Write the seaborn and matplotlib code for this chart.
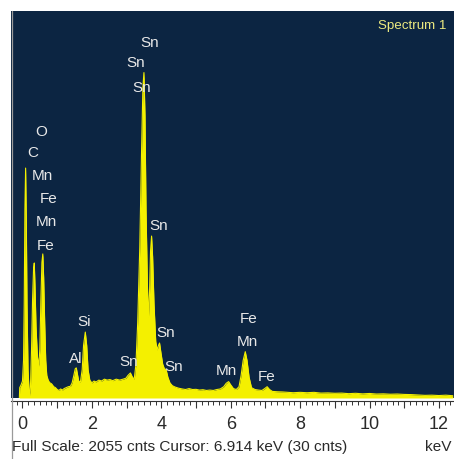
import matplotlib
matplotlib.use("Agg")
import matplotlib.pyplot as plt
from matplotlib.lines import Line2D
from matplotlib.ticker import AutoMinorLocator
import pandas as pd
import seaborn as sns

# EDS spectrum: energy (keV) and counts
energy_kev = [
    -0.09, -0.08, -0.04, 0.00, 0.03, 0.05, 0.07, 0.09, 0.11, 0.13, 0.16, 0.19,
    0.21, 0.23, 0.26, 0.29, 0.32, 0.34, 0.36, 0.39, 0.43, 0.47, 0.50, 0.53,
    0.56, 0.585, 0.61, 0.64, 0.67, 0.70, 0.74, 0.78, 0.84, 0.90, 0.95, 1.00,
    1.05, 1.10, 1.15, 1.20, 1.26, 1.32, 1.38, 1.43, 1.48, 1.52, 1.55, 1.58,
    1.62, 1.67, 1.72, 1.76, 1.81, 1.85, 1.89, 1.94, 2.00, 2.06, 2.12, 2.20,
    2.28, 2.36, 2.44, 2.52, 2.60, 2.70, 2.80, 2.90, 2.98, 3.04, 3.11, 3.17,
    3.22, 3.27, 3.32, 3.38, 3.43, 3.47, 3.50, 3.53, 3.56, 3.60, 3.63, 3.66,
    3.69, 3.72, 3.75, 3.79, 3.84, 3.88, 3.92, 3.95, 3.99, 4.04, 4.09, 4.14,
    4.19, 4.25, 4.32, 4.40, 4.50, 4.60, 4.70, 4.80, 4.90, 5.00, 5.10, 5.20,
    5.30, 5.40, 5.50, 5.60, 5.70, 5.80, 5.87, 5.94, 6.00, 6.08, 6.16, 6.24,
    6.30, 6.36, 6.42, 6.47, 6.53, 6.60, 6.70, 6.80, 6.90, 6.98, 7.05, 7.12,
    7.20, 7.35, 7.50, 7.65, 7.80, 8.00, 8.20, 8.40, 8.60, 8.80, 9.00, 9.20,
    9.40, 9.60, 9.80, 10.00, 10.20, 10.40, 10.60, 10.80, 11.00, 11.20, 11.40,
    11.60, 11.80, 12.00, 12.20, 12.40,
]
counts = [
    0, 55, 70, 90, 200, 500, 1000, 1221, 950, 500, 150, 40,
    15, 60, 250, 520, 690, 717, 600, 380, 220, 170, 260, 520,
    720, 765, 640, 400, 200, 120, 95, 82, 75, 60, 55, 45,
    40, 48, 42, 50, 55, 60, 62, 80, 120, 155, 160, 130,
    90, 85, 150, 280, 350, 280, 150, 95, 80, 90, 85, 95,
    90, 100, 95, 98, 92, 100, 95, 100, 105, 120, 133, 110,
    100, 180, 400, 800, 1300, 1650, 1728, 1500, 1000, 600, 430, 550,
    780, 860, 750, 500, 300, 255, 280, 292, 240, 180, 155, 150,
    110, 80, 65, 58, 52, 48, 45, 50, 45, 46, 42, 44,
    40, 42, 40, 45, 48, 60, 78, 87, 70, 50, 45, 60,
    120, 200, 246, 200, 110, 55, 45, 42, 40, 50, 60, 45,
    35, 33, 32, 30, 28, 30, 28, 30, 26, 27, 25, 26,
    23, 25, 22, 24, 21, 22, 20, 21, 19, 18, 16,
    14, 15, 13, 15, 12,
]

# Element line labels and where they sit (keV, counts)
label_text = ["O", "C", "Mn", "Fe", "Mn", "Fe", "Si", "Al", "Sn", "Sn", "Sn",
              "Sn", "Sn", "Sn", "Sn", "Fe", "Mn", "Mn", "Fe"]
label_kev = [0.553, 0.282, 0.582, 0.744, 0.677, 0.669, 1.772, 1.542, 3.049,
             3.914, 4.135, 4.346, 3.674, 3.271, 3.424, 6.527, 6.478, 5.885, 7.037]
label_counts = [1414, 1299, 1179, 1057, 935, 809, 405, 207, 190,
                913, 345, 166, 1887, 1780, 1648, 419, 299, 145, 113]

full_scale = 2055
major_ticks = list(range(0, 13))
footer_text = "Full Scale: 2055 cnts Cursor: 6.914 keV (30 cnts)"
spectrum_name = "Spectrum 1"

sns.set_theme(style="white")
plt.rcParams["font.family"] = ["Liberation Sans", "DejaVu Sans"]

df = pd.DataFrame({"energy": energy_kev, "counts": counts})

fig = plt.figure(figsize=(4.54, 4.59), dpi=100)
ax = fig.add_axes([11 / 454, 1 - 398 / 459, 443 / 454, 387 / 459])
ax.set_facecolor("#0c2542")

yellow = "#f4f000"
ax.fill_between(df["energy"], 0, df["counts"], color=yellow, linewidth=0)
sns.lineplot(data=df, x="energy", y="counts", ax=ax, color=yellow,
             linewidth=0.8, estimator=None, sort=False)

for txt, xv, yv in zip(label_text, label_kev, label_counts):
    ax.text(xv, yv, txt, color="#e8e8e8", fontsize=11, ha="center",
            va="center")

ax.text(0.982, 0.962, spectrum_name, transform=ax.transAxes, color="#ecea80",
        fontsize=9.6, ha="right", va="center")

ax.set_xlim(-0.331, 12.435)
ax.set_ylim(0, full_scale)
ax.set_xlabel("")
ax.set_ylabel("")
ax.set_yticks([])
ax.set_xticks(major_ticks)
ax.set_xticklabels([str(v) if v % 2 == 0 else "" for v in major_ticks])
ax.xaxis.set_minor_locator(AutoMinorLocator(6))
ax.tick_params(axis="x", which="major", direction="out", length=5, width=0.8,
               color="#333333", labelsize=13, labelcolor="#2a2a2a", pad=5.5,
               bottom=True)
ax.tick_params(axis="x", which="minor", direction="out", length=3,
               width=0.7, color="#333333", bottom=True)

for side in ["top", "right", "left"]:
    ax.spines[side].set_visible(False)
ax.spines["bottom"].set_position(("outward", 2.5))
ax.spines["bottom"].set_color("#333333")
ax.spines["bottom"].set_linewidth(0.8)

# panel border on the left, running past the axis down to the footer
fig.add_artist(Line2D([11.5 / 454, 11.5 / 454], [0, 1 - 10.5 / 459],
                      transform=fig.transFigure, color="#9a9a9a", lw=0.9))

fig.text(12 / 454, 1 - 447 / 459, footer_text, fontsize=11.1, color="#2a2a2a",
         ha="left", va="center")
fig.text(452 / 454, 1 - 447 / 459, "keV", fontsize=11.1, color="#2a2a2a",
         ha="right", va="center")

fig.savefig("out.png", dpi=100)
